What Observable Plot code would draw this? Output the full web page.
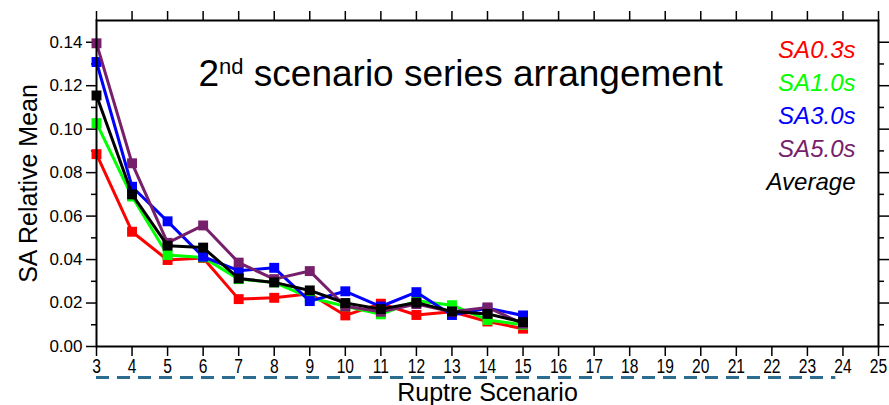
<!DOCTYPE html>
<html>
<head>
<meta charset="utf-8">
<script src="https://cdn.jsdelivr.net/npm/d3@7"></script>
<script src="https://cdn.jsdelivr.net/npm/@observablehq/plot@0.6"></script>
<style>
  html, body { margin: 0; padding: 0; background: #fff; }
  #chart svg { display: block; }
</style>
</head>
<body>
<div id="chart"></div>
<script>
// ---- data ----
const scenarios = [3, 4, 5, 6, 7, 8, 9, 10, 11, 12, 13, 14, 15];
const sa03 = [0.0885, 0.0528, 0.0398, 0.0407, 0.0218, 0.0224, 0.0243, 0.0143, 0.0197, 0.0145, 0.0160, 0.0115, 0.0082];
const sa10 = [0.1028, 0.0690, 0.0421, 0.0410, 0.0310, 0.0295, 0.0225, 0.0185, 0.0148, 0.0210, 0.0190, 0.0122, 0.0100];
const sa30 = [0.1309, 0.0735, 0.0576, 0.0413, 0.0349, 0.0362, 0.0209, 0.0254, 0.0184, 0.0250, 0.0145, 0.0176, 0.0143];
const sa50 = [0.1395, 0.0843, 0.0477, 0.0557, 0.0386, 0.0310, 0.0347, 0.0185, 0.0160, 0.0195, 0.0160, 0.0180, 0.0105];
const avg  = [0.1155, 0.0700, 0.0464, 0.0455, 0.0313, 0.0295, 0.0258, 0.0200, 0.0172, 0.0202, 0.0161, 0.0150, 0.0112];
const seriesNames = ["SA0.3s", "SA1.0s", "SA3.0s", "SA5.0s", "Average"];
const seriesValues = [sa03, sa10, sa30, sa50, avg];
const seriesColors = ["#ff0000", "#00ff00", "#0000ff", "#76206c", "#000000"];
const xTicks = [3, 4, 5, 6, 7, 8, 9, 10, 11, 12, 13, 14, 15, 16, 17, 18, 19, 20, 21, 22, 23, 24, 25];
const yTicks = [0, 0.02, 0.04, 0.06, 0.08, 0.10, 0.12, 0.14];
const yMinorTicks = [0.01, 0.03, 0.05, 0.07, 0.09, 0.11, 0.13];
const xDomain = [3, 25];
const yDomain = [0, 0.15];
const dashRange = [3, 23.8];
const titleText = "2nd scenario series arrangement";
const xLabel = "Ruptre Scenario";
const yLabel = "SA Relative Mean";

// long table
const rows = [];
seriesNames.forEach((name, i) => {
  scenarios.forEach((s, j) => rows.push({series: name, x: s, y: seriesValues[i][j]}));
});

const font = "Liberation Sans, Arial, Helvetica, sans-serif";

const seriesMarks = seriesNames.flatMap((name, i) => {
  const d = rows.filter(r => r.series === name);
  return [
    Plot.line(d, {x: "x", y: "y", stroke: seriesColors[i], strokeWidth: 3}),
    Plot.dot(d, {x: "x", y: "y", symbol: "square", r: 5.6, fill: seriesColors[i], stroke: "none"})
  ];
});

const legendMarks = seriesNames.map((name, i) =>
  Plot.text([name], {
    text: d => d, frameAnchor: "top-right", dx: -23, dy: 30 + 33 * i,
    lineAnchor: "middle", textAnchor: "end",
    fill: seriesColors[i], fontSize: 24, fontStyle: "italic", fontFamily: font
  })
);

const plot = Plot.plot({
  width: 889,
  height: 405,
  marginLeft: 96,
  marginRight: 11,
  marginTop: 20,
  marginBottom: 59,
  style: {fontFamily: font, fontSize: "17px", color: "#000", background: "#fff", overflow: "visible"},
  x: {domain: xDomain},
  y: {domain: yDomain},
  marks: [
    Plot.axisX({anchor: "bottom", ticks: xTicks, tickSize: 10, tickPadding: 2, tickFormat: d => String(d), label: null, strokeWidth: 1.5, fontSize: 20}),
    Plot.axisX({anchor: "top", ticks: xTicks, tickSize: 10, tickFormat: () => "", label: null, strokeWidth: 1.5}),
    Plot.axisY({anchor: "left", ticks: yTicks, tickSize: 10, tickPadding: 4, tickFormat: d3.format(".2f"), label: null, strokeWidth: 1.5, fontSize: 17}),
    Plot.axisY({anchor: "left", ticks: yMinorTicks, tickSize: 5, tickFormat: () => "", label: null, strokeWidth: 1.5}),
    Plot.axisY({anchor: "right", ticks: yTicks, tickSize: 10, tickFormat: () => "", label: null, strokeWidth: 1.5}),
    Plot.axisY({anchor: "right", ticks: yMinorTicks, tickSize: 5, tickFormat: () => "", label: null, strokeWidth: 1.5}),
    ...seriesMarks,
    Plot.frame({stroke: "#000", strokeWidth: 2}),
    Plot.ruleY([yDomain[0]], {x1: dashRange[0], x2: dashRange[1], dy: 31, stroke: "#2b6c8f", strokeWidth: 3, strokeDasharray: "13,8"}),
    Plot.text([titleText], {text: d => d, frameAnchor: "top-left", dx: 102, dy: 65, lineAnchor: "bottom", textAnchor: "start", fontSize: 37, fill: "#000", fontFamily: font}),
    ...legendMarks,
    Plot.text([xLabel], {text: d => d, frameAnchor: "bottom", dy: 54, lineAnchor: "bottom", textAnchor: "middle", fontSize: 25, fill: "#000", fontFamily: font}),
    Plot.text([yLabel], {text: d => d, frameAnchor: "left", dx: -60, rotate: -90, lineAnchor: "bottom", textAnchor: "middle", fontSize: 25, fill: "#000", fontFamily: font})
  ]
});

// superscript on the title
d3.select(plot).selectAll("text").filter(function() { return this.textContent === titleText; })
  .each(function() {
    const t = d3.select(this);
    t.text(null);
    t.append("tspan").text("2");
    t.append("tspan").attr("font-size", 22).attr("dy", -12).text("nd");
    t.append("tspan").attr("dy", 12).text(" scenario series arrangement");
  });

document.getElementById("chart").appendChild(plot);

// condensed x tick labels
d3.select(plot).selectAll('g[aria-label="x-axis tick label"] text').each(function() {
  const w = this.getComputedTextLength();
  if (w > 0) {
    this.setAttribute("textLength", (w * 0.78).toFixed(2));
    this.setAttribute("lengthAdjust", "spacingAndGlyphs");
  }
});
</script>
</body>
</html>
